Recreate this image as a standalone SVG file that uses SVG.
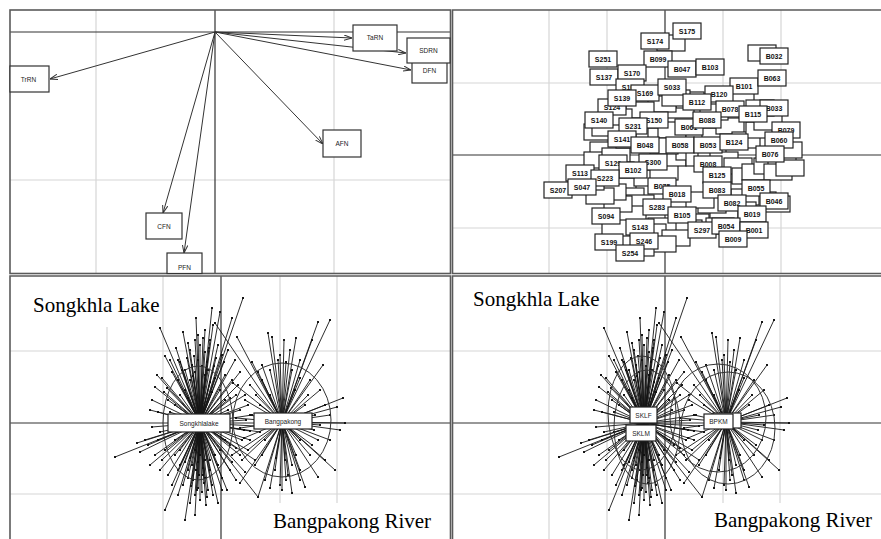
<svg xmlns="http://www.w3.org/2000/svg" width="881" height="539" viewBox="0 0 881 539">
<style>
.frame{fill:none;stroke:#5a5a5a;stroke-width:1.6}
.grid{stroke:#d6d6d6;stroke-width:1.2;fill:none}
.axis{stroke:#333;stroke-width:1.2;fill:none}
.arr{stroke:#333;stroke-width:1;fill:none;marker-end:url(#ah)}
.tl rect{fill:#fff;stroke:#333;stroke-width:1.2}
.tl text{font-family:"Liberation Sans",Arial,sans-serif;font-size:6.5px;text-anchor:middle;fill:#222}
.nb rect{fill:#fff;stroke:#222;stroke-width:1.2}
.nb text{font-family:"Liberation Sans",Arial,sans-serif;font-weight:bold;font-size:7px;text-anchor:middle;fill:#111}
.rays{stroke:#151515;stroke-width:0.9;fill:none;marker-start:url(#dot);marker-mid:url(#dot);marker-end:url(#dot)}
.ell{fill:none;stroke:#333;stroke-width:1}
.gl rect{fill:#fff;stroke:#222;stroke-width:1.2}
.gl text{font-family:"Liberation Sans",Arial,sans-serif;font-size:6.5px;text-anchor:middle;fill:#222}
.big{font-family:"Liberation Serif","Times New Roman",serif;font-size:21px;fill:#000}
</style>
<defs>
<marker id="ah" viewBox="0 0 8 6" refX="8" refY="3" markerWidth="8" markerHeight="6" markerUnits="userSpaceOnUse" orient="auto"><path d="M0,0.3L8,3L0,5.7" fill="none" stroke="#333" stroke-width="1"/></marker>
<marker id="dot" viewBox="0 0 3 3" refX="1.5" refY="1.5" markerWidth="2.4" markerHeight="2.4" markerUnits="userSpaceOnUse"><circle cx="1.5" cy="1.5" r="1.5" fill="#111"/></marker>
<path id="raysS" d="M200 423L243 298M200 423L212 308M200 423L160 328M200 423L205 330M200 423L188 343M200 423L213 325M200 423L220 312M200 423L232 318M200 423L196 318M200 423L183 332M200 423L176 348M200 423L170 360M200 423L165 356M200 423L157 375M200 423L155 387M200 423L152 400M200 423L150 410M200 423L164 392M200 423L172 372M200 423L180 362M200 423L190 350M200 423L195 340M200 423L200 345M200 423L205 352M200 423L210 340M200 423L218 345M200 423L222 355M200 423L228 350M200 423L235 360M200 423L240 372M200 423L238 385M200 423L245 395M200 423L248 405M200 423L185 370M200 423L192 365M200 423L207 362M200 423L214 366M200 423L178 380M200 423L225 375M200 423L168 400M200 423L158 412M200 423L230 398M200 423L240 410M200 423L252 415M200 423L198 335M200 423L203 338M200 423L209 348M200 423L187 358M200 423L194 356M200 423L216 358M200 423L115 457M200 423L137 443M200 423L152 427M200 423L145 440M200 423L140 452M200 423L150 465M200 423L160 470M200 423L165 510M200 423L190 503M200 423L197 490M200 423L218 503M200 423L227 490M200 423L207 497M200 423L258 497M200 423L248 450M200 423L255 460M200 423L245 472M200 423L236 480M200 423L230 470M200 423L222 478M200 423L212 485M200 423L205 478M200 423L200 500M200 423L195 515M200 423L185 520M200 423L178 495M200 423L172 485M200 423L168 475M200 423L180 465M200 423L188 470M200 423L193 480M200 423L203 468M200 423L210 460M200 423L218 465M200 423L240 455M200 423L250 440M200 423L260 432M200 423L175 455M200 423L165 450M200 423L158 440M200 423L198 488M200 423L202 492M200 423L195 495M200 423L206 505M200 423L191 486M200 423L199 475M200 423L196 470M200 423L204 483M200 423L255 426M200 423L250 431M200 423L246 420M200 423L190 380M200 423L195 372M200 423L205 375M200 423L210 382M200 423L215 378M200 423L185 390M200 423L180 395M200 423L220 390M200 423L225 400M200 423L175 405M200 423L170 412M200 423L228 410M200 423L198 360M200 423L202 366M200 423L193 376M200 423L208 370M200 423L212 392M200 423L188 398M200 423L182 370M200 423L178 360M200 423L224 362M200 423L232 380M200 423L236 395M200 423L167 388M200 423L162 378M200 423L195 450M200 423L200 455M200 423L205 460M200 423L190 458M200 423L185 462M200 423L210 470M200 423L215 455M200 423L220 450M200 423L180 450M200 423L175 440M200 423L170 432M200 423L225 440M200 423L230 445M200 423L192 465M200 423L198 462M200 423L203 475M200 423L188 478M200 423L208 490M200 423L213 495M200 423L183 485M200 423L178 470M200 423L222 490M200 423L232 462M200 423L236 448M200 423L162 460M200 423L155 455M200 423L148 445M200 423L242 440M200 423L244 430M200 423L160 432"/>
<path id="raysB" d="M282 422L318 322M282 422L330 320M282 422L268 333M282 422L272 337M282 422L312 340M282 422L323 365M282 422L343 398M282 422L337 407M282 422L345 423M282 422L325 460M282 422L335 470M282 422L318 477M282 422L292 493M282 422L282 490M282 422L305 487M282 422L258 497M282 422L240 483M282 422L242 460M282 422L232 455M282 422L233 383M282 422L237 337M282 422L252 362M282 422L215 323M282 422L290 350M282 422L300 360M282 422L280 355M282 422L262 365M282 422L250 385M282 422L245 400M282 422L310 380M282 422L320 390M282 422L330 440M282 422L340 430M282 422L300 470M282 422L288 475M282 422L275 470M282 422L265 480M282 422L255 465M282 422L248 450M282 422L310 455M282 422L270 395M282 422L295 390M282 422L305 405M282 422L260 405M282 422L315 415M282 422L320 425M282 422L300 440M282 422L265 440M282 422L284 340M282 422L286 480M282 422L236 418M282 422L240 428M282 422L278 360M282 422L286 362M282 422L292 370M282 422L270 370M282 422L262 380M282 422L300 378M282 422L308 395M282 422L256 395M282 422L250 415M282 422L314 430M282 422L312 445M282 422L296 455M282 422L285 460M282 422L276 458M282 422L262 455M282 422L292 465M282 422L280 485M282 422L270 488M282 422L300 480M282 422L318 440M282 422L244 438M282 422L258 372M282 422L325 405M282 422L330 415M282 422L296 338"/>
</defs>
<rect x="0" y="0" width="881" height="539" fill="#fff"/>

<g id="panel-top-left">
<path class="grid" d="M96 10V273.5M334 10V273.5M10 180H450.5"/>
<path class="axis" d="M10 32H450.5M215 10V273.5"/>
<rect class="frame" x="10" y="10" width="440.5" height="263.5"/>
</g>
<g id="panel-top-right">
<path class="grid" d="M549 10V273.5M607 10V273.5M723 10V273.5M781 10V273.5M452.5 83H881M452.5 228H881"/>
<path class="axis" d="M452.5 155H881M665 10V273.5"/>
<path class="frame" d="M881 10H452.5V273.5H881"/>
</g>
<g id="panel-bottom-left">
<path class="grid" d="M107 327V539M163 276V539M280 276V503M337 276V503M10 351H450.5M10 494H450.5"/>
<path class="axis" d="M10 423H450.5M221 276V539"/>
<path class="frame" d="M10 539V276H450.5V539"/>
</g>
<g id="panel-bottom-right">
<path class="grid" d="M549 327V539M607 276V539M723 276V503M780 276V503M452.5 351H881M452.5 494H881"/>
<path class="axis" d="M452.5 423H881M665 276V539"/>
<path class="frame" d="M881 276H452.5V539"/>
</g>

<g id="connectors">
<path class="arr" d="M215 32L352 38"/>
<path class="arr" d="M215 32L406 53"/>
<path class="arr" d="M215 32L411 70"/>
<path class="arr" d="M215 32L50 79"/>
<path class="arr" d="M215 32L323 144"/>
<path class="arr" d="M215 32L163 213"/>
<path class="arr" d="M215 32L184 253"/>
<use id="rays-songkhla-left" class="rays" href="#raysS"/>
<use id="rays-bangpakong-left" class="rays" href="#raysB"/>
<use id="rays-songkhla-right" class="rays" href="#raysS" transform="translate(444 0)"/>
<use id="rays-bangpakong-right" class="rays" href="#raysB" transform="translate(444 0)"/>
</g>

<g id="ellipses">
<ellipse class="ell" cx="198" cy="423" rx="35" ry="57"/>
<ellipse class="ell" cx="282" cy="420" rx="49" ry="57"/>
<ellipse class="ell" cx="642" cy="413" rx="34" ry="57"/>
<ellipse class="ell" cx="647" cy="427" rx="33" ry="57"/>
<ellipse class="ell" cx="718" cy="418" rx="48" ry="54"/>
<ellipse class="ell" cx="728" cy="428" rx="47" ry="56"/>
</g>

<g id="tl-nodes" class="tl">
<g id="TaRN"><rect x="353" y="25" width="44" height="26"/><text x="375" y="40">TaRN</text></g>
<g id="DFN"><rect x="412" y="58" width="35" height="25"/><text x="429.5" y="73">DFN</text></g>
<g id="SDRN"><rect x="407" y="38" width="43" height="25"/><text x="428.5" y="53">SDRN</text></g>
<g id="TrRN"><rect x="10" y="66" width="39" height="26"/><text x="28.5" y="81.5">TrRN</text></g>
<g id="AFN"><rect x="323" y="130" width="38" height="27"/><text x="342" y="145.5">AFN</text></g>
<g id="CFN"><rect x="146" y="213" width="36" height="26"/><text x="164" y="228.5">CFN</text></g>
<g id="PFN"><rect x="167" y="253" width="35" height="20.5"/><text x="184.5" y="270">PFN</text></g>
</g>

<g id="tr-nodes" class="nb">
<g id="f1" transform="translate(598 132)"><rect x="-14" y="-8" width="28" height="16"/></g>
<g id="f2" transform="translate(606 128)"><rect x="-14" y="-8" width="28" height="16"/></g>
<g id="f3" transform="translate(604 150)"><rect x="-14" y="-8" width="28" height="16"/></g>
<g id="f4" transform="translate(598 160)"><rect x="-14" y="-8" width="28" height="16"/></g>
<g id="f5" transform="translate(616 156)"><rect x="-14" y="-8" width="28" height="16"/></g>
<g id="f6" transform="translate(622 183)"><rect x="-14" y="-8" width="28" height="16"/></g>
<g id="f7" transform="translate(630 196)"><rect x="-14" y="-8" width="28" height="16"/></g>
<g id="f8" transform="translate(640 203)"><rect x="-14" y="-8" width="28" height="16"/></g>
<g id="f9" transform="translate(648 178)"><rect x="-14" y="-8" width="28" height="16"/></g>
<g id="f10" transform="translate(664 172)"><rect x="-14" y="-8" width="28" height="16"/></g>
<g id="f11" transform="translate(672 158)"><rect x="-14" y="-8" width="28" height="16"/></g>
<g id="f12" transform="translate(690 152)"><rect x="-14" y="-8" width="28" height="16"/></g>
<g id="f13" transform="translate(700 158)"><rect x="-14" y="-8" width="28" height="16"/></g>
<g id="f14" transform="translate(712 152)"><rect x="-14" y="-8" width="28" height="16"/></g>
<g id="f15" transform="translate(724 160)"><rect x="-14" y="-8" width="28" height="16"/></g>
<g id="f16" transform="translate(738 166)"><rect x="-14" y="-8" width="28" height="16"/></g>
<g id="f17" transform="translate(746 176)"><rect x="-14" y="-8" width="28" height="16"/></g>
<g id="f18" transform="translate(756 172)"><rect x="-14" y="-8" width="28" height="16"/></g>
<g id="f19" transform="translate(768 166)"><rect x="-14" y="-8" width="28" height="16"/></g>
<g id="f20" transform="translate(782 160)"><rect x="-14" y="-8" width="28" height="16"/></g>
<g id="f21" transform="translate(778 172)"><rect x="-14" y="-8" width="28" height="16"/></g>
<g id="f22" transform="translate(762 200)"><rect x="-14" y="-8" width="28" height="16"/></g>
<g id="f23" transform="translate(745 197)"><rect x="-14" y="-8" width="28" height="16"/></g>
<g id="f24" transform="translate(742 210)"><rect x="-14" y="-8" width="28" height="16"/></g>
<g id="f25" transform="translate(724 212)"><rect x="-14" y="-8" width="28" height="16"/></g>
<g id="f26" transform="translate(712 205)"><rect x="-14" y="-8" width="28" height="16"/></g>
<g id="f27" transform="translate(700 200)"><rect x="-14" y="-8" width="28" height="16"/></g>
<g id="f28" transform="translate(695 222)"><rect x="-14" y="-8" width="28" height="16"/></g>
<g id="f29" transform="translate(688 228)"><rect x="-14" y="-8" width="28" height="16"/></g>
<g id="f30" transform="translate(662 226)"><rect x="-14" y="-8" width="28" height="16"/></g>
<g id="f31" transform="translate(652 232)"><rect x="-14" y="-8" width="28" height="16"/></g>
<g id="f32" transform="translate(632 214)"><rect x="-14" y="-8" width="28" height="16"/></g>
<g id="f33" transform="translate(618 204)"><rect x="-14" y="-8" width="28" height="16"/></g>
<g id="f34" transform="translate(612 192)"><rect x="-14" y="-8" width="28" height="16"/></g>
<g id="f35" transform="translate(630 140)"><rect x="-14" y="-8" width="28" height="16"/></g>
<g id="f36" transform="translate(650 132)"><rect x="-14" y="-8" width="28" height="16"/></g>
<g id="f37" transform="translate(662 136)"><rect x="-14" y="-8" width="28" height="16"/></g>
<g id="f38" transform="translate(672 130)"><rect x="-14" y="-8" width="28" height="16"/></g>
<g id="f39" transform="translate(680 110)"><rect x="-14" y="-8" width="28" height="16"/></g>
<g id="f40" transform="translate(690 100)"><rect x="-14" y="-8" width="28" height="16"/></g>
<g id="f41" transform="translate(662 104)"><rect x="-14" y="-8" width="28" height="16"/></g>
<g id="f42" transform="translate(640 110)"><rect x="-14" y="-8" width="28" height="16"/></g>
<g id="f43" transform="translate(618 117)"><rect x="-14" y="-8" width="28" height="16"/></g>
<g id="f44" transform="translate(700 136)"><rect x="-14" y="-8" width="28" height="16"/></g>
<g id="f45" transform="translate(716 136)"><rect x="-14" y="-8" width="28" height="16"/></g>
<g id="f46" transform="translate(730 126)"><rect x="-14" y="-8" width="28" height="16"/></g>
<g id="f47" transform="translate(746 140)"><rect x="-14" y="-8" width="28" height="16"/></g>
<g id="f48" transform="translate(760 130)"><rect x="-14" y="-8" width="28" height="16"/></g>
<g id="f49" transform="translate(768 122)"><rect x="-14" y="-8" width="28" height="16"/></g>
<g id="f50" transform="translate(788 150)"><rect x="-14" y="-8" width="28" height="16"/></g>
<g id="f51" transform="translate(790 168)"><rect x="-14" y="-8" width="28" height="16"/></g>
<g id="f52" transform="translate(776 204)"><rect x="-14" y="-8" width="28" height="16"/></g>
<g id="f53" transform="translate(720 226)"><rect x="-14" y="-8" width="28" height="16"/></g>
<g id="f54" transform="translate(676 238)"><rect x="-14" y="-8" width="28" height="16"/></g>
<g id="f55" transform="translate(662 244)"><rect x="-14" y="-8" width="28" height="16"/></g>
<g id="f56" transform="translate(640 248)"><rect x="-14" y="-8" width="28" height="16"/></g>
<g id="f57" transform="translate(626 238)"><rect x="-14" y="-8" width="28" height="16"/></g>
<g id="f58" transform="translate(616 228)"><rect x="-14" y="-8" width="28" height="16"/></g>
<g id="f59" transform="translate(664 146)"><rect x="-14" y="-8" width="28" height="16"/></g>
<g id="f60" transform="translate(620 170)"><rect x="-14" y="-8" width="28" height="16"/></g>
<g id="f61" transform="translate(600 196)"><rect x="-14" y="-8" width="28" height="16"/></g>
<g id="f62" transform="translate(590 182)"><rect x="-14" y="-8" width="28" height="16"/></g>
<g id="f63" transform="translate(714 112)"><rect x="-14" y="-8" width="28" height="16"/></g>
<g id="f64" transform="translate(676 98)"><rect x="-14" y="-8" width="28" height="16"/></g>
<g id="f65" transform="translate(740 100)"><rect x="-14" y="-8" width="28" height="16"/></g>
<g id="f66" transform="translate(760 108)"><rect x="-14" y="-8" width="28" height="16"/></g>
<g id="f67" transform="translate(671 43)"><rect x="-14" y="-8" width="28" height="16"/></g>
<g id="f68" transform="translate(762 53)"><rect x="-14" y="-8" width="28" height="16"/></g>

<g id="S175" transform="translate(687 31)"><rect x="-14" y="-8" width="28" height="16"/><text y="2.5">S175</text></g>
<g id="S174" transform="translate(655 41)"><rect x="-14" y="-8" width="28" height="16"/><text y="2.5">S174</text></g>
<g id="S251" transform="translate(603 59)"><rect x="-14" y="-8" width="28" height="16"/><text y="2.5">S251</text></g>
<g id="B099" transform="translate(658 59)"><rect x="-14" y="-8" width="28" height="16"/><text y="2.5">B099</text></g>
<g id="B047" transform="translate(682 69)"><rect x="-14" y="-8" width="28" height="16"/><text y="2.5">B047</text></g>
<g id="B103" transform="translate(710 67)"><rect x="-14" y="-8" width="28" height="16"/><text y="2.5">B103</text></g>
<g id="B032" transform="translate(774 56)"><rect x="-14" y="-8" width="28" height="16"/><text y="2.5">B032</text></g>
<g id="S137" transform="translate(604 77)"><rect x="-14" y="-8" width="28" height="16"/><text y="2.5">S137</text></g>
<g id="S170" transform="translate(632 73)"><rect x="-14" y="-8" width="28" height="16"/><text y="2.5">S170</text></g>
<g id="S104" transform="translate(630 87)"><rect x="-14" y="-8" width="28" height="16"/><text y="2.5">S104</text></g>
<g id="S169" transform="translate(645 93)"><rect x="-14" y="-8" width="28" height="16"/><text y="2.5">S169</text></g>
<g id="S033" transform="translate(672 87)"><rect x="-14" y="-8" width="28" height="16"/><text y="2.5">S033</text></g>
<g id="B101" transform="translate(744 86)"><rect x="-14" y="-8" width="28" height="16"/><text y="2.5">B101</text></g>
<g id="B063" transform="translate(772 78)"><rect x="-14" y="-8" width="28" height="16"/><text y="2.5">B063</text></g>
<g id="B120" transform="translate(719 94)"><rect x="-14" y="-8" width="28" height="16"/><text y="2.5">B120</text></g>
<g id="S124" transform="translate(612 107)"><rect x="-14" y="-8" width="28" height="16"/><text y="2.5">S124</text></g>
<g id="S139" transform="translate(622 98)"><rect x="-14" y="-8" width="28" height="16"/><text y="2.5">S139</text></g>
<g id="B112" transform="translate(697 102)"><rect x="-14" y="-8" width="28" height="16"/><text y="2.5">B112</text></g>
<g id="B033" transform="translate(774 108)"><rect x="-14" y="-8" width="28" height="16"/><text y="2.5">B033</text></g>
<g id="B078" transform="translate(730 109)"><rect x="-14" y="-8" width="28" height="16"/><text y="2.5">B078</text></g>
<g id="B115" transform="translate(753 114)"><rect x="-14" y="-8" width="28" height="16"/><text y="2.5">B115</text></g>
<g id="S140" transform="translate(599 120)"><rect x="-14" y="-8" width="28" height="16"/><text y="2.5">S140</text></g>
<g id="S150" transform="translate(654 120)"><rect x="-14" y="-8" width="28" height="16"/><text y="2.5">S150</text></g>
<g id="B079" transform="translate(786 130)"><rect x="-14" y="-8" width="28" height="16"/><text y="2.5">B079</text></g>
<g id="B061" transform="translate(689 127)"><rect x="-14" y="-8" width="28" height="16"/><text y="2.5">B061</text></g>
<g id="B088" transform="translate(707 120)"><rect x="-14" y="-8" width="28" height="16"/><text y="2.5">B088</text></g>
<g id="S231" transform="translate(633 126)"><rect x="-14" y="-8" width="28" height="16"/><text y="2.5">S231</text></g>
<g id="S141" transform="translate(622 139)"><rect x="-14" y="-8" width="28" height="16"/><text y="2.5">S141</text></g>
<g id="B048" transform="translate(645 145)"><rect x="-14" y="-8" width="28" height="16"/><text y="2.5">B048</text></g>
<g id="B058" transform="translate(680 145)"><rect x="-14" y="-8" width="28" height="16"/><text y="2.5">B058</text></g>
<g id="B053" transform="translate(708 145)"><rect x="-14" y="-8" width="28" height="16"/><text y="2.5">B053</text></g>
<g id="B060" transform="translate(779 140)"><rect x="-14" y="-8" width="28" height="16"/><text y="2.5">B060</text></g>
<g id="B124" transform="translate(734 142)"><rect x="-14" y="-8" width="28" height="16"/><text y="2.5">B124</text></g>
<g id="B076" transform="translate(770 154)"><rect x="-14" y="-8" width="28" height="16"/><text y="2.5">B076</text></g>
<g id="S129" transform="translate(613 163)"><rect x="-14" y="-8" width="28" height="16"/><text y="2.5">S129</text></g>
<g id="S300" transform="translate(653 162)"><rect x="-14" y="-8" width="28" height="16"/><text y="2.5">S300</text></g>
<g id="B008" transform="translate(708 164)"><rect x="-14" y="-8" width="28" height="16"/><text y="2.5">B008</text></g>
<g id="B102" transform="translate(633 170)"><rect x="-14" y="-8" width="28" height="16"/><text y="2.5">B102</text></g>
<g id="S113" transform="translate(580 173)"><rect x="-14" y="-8" width="28" height="16"/><text y="2.5">S113</text></g>
<g id="S223" transform="translate(605 178)"><rect x="-14" y="-8" width="28" height="16"/><text y="2.5">S223</text></g>
<g id="B125" transform="translate(717 175)"><rect x="-14" y="-8" width="28" height="16"/><text y="2.5">B125</text></g>
<g id="S207" transform="translate(558 190)"><rect x="-14" y="-8" width="28" height="16"/><text y="2.5">S207</text></g>
<g id="S047" transform="translate(582 187)"><rect x="-14" y="-8" width="28" height="16"/><text y="2.5">S047</text></g>
<g id="B075" transform="translate(662 186)"><rect x="-14" y="-8" width="28" height="16"/><text y="2.5">B075</text></g>
<g id="B018" transform="translate(677 194)"><rect x="-14" y="-8" width="28" height="16"/><text y="2.5">B018</text></g>
<g id="B083" transform="translate(717 190)"><rect x="-14" y="-8" width="28" height="16"/><text y="2.5">B083</text></g>
<g id="B055" transform="translate(756 188)"><rect x="-14" y="-8" width="28" height="16"/><text y="2.5">B055</text></g>
<g id="B046" transform="translate(774 201)"><rect x="-14" y="-8" width="28" height="16"/><text y="2.5">B046</text></g>
<g id="B082" transform="translate(732 203)"><rect x="-14" y="-8" width="28" height="16"/><text y="2.5">B082</text></g>
<g id="S283" transform="translate(657 207)"><rect x="-14" y="-8" width="28" height="16"/><text y="2.5">S283</text></g>
<g id="S094" transform="translate(606 216)"><rect x="-14" y="-8" width="28" height="16"/><text y="2.5">S094</text></g>
<g id="B019" transform="translate(752 214)"><rect x="-14" y="-8" width="28" height="16"/><text y="2.5">B019</text></g>
<g id="B105" transform="translate(682 215)"><rect x="-14" y="-8" width="28" height="16"/><text y="2.5">B105</text></g>
<g id="S297" transform="translate(702 230)"><rect x="-14" y="-8" width="28" height="16"/><text y="2.5">S297</text></g>
<g id="B054" transform="translate(726 226)"><rect x="-14" y="-8" width="28" height="16"/><text y="2.5">B054</text></g>
<g id="B001" transform="translate(754 230)"><rect x="-14" y="-8" width="28" height="16"/><text y="2.5">B001</text></g>
<g id="S143" transform="translate(640 227)"><rect x="-14" y="-8" width="28" height="16"/><text y="2.5">S143</text></g>
<g id="S246" transform="translate(644 241)"><rect x="-14" y="-8" width="28" height="16"/><text y="2.5">S246</text></g>
<g id="S199" transform="translate(609 242)"><rect x="-14" y="-8" width="28" height="16"/><text y="2.5">S199</text></g>
<g id="B009" transform="translate(733 239)"><rect x="-14" y="-8" width="28" height="16"/><text y="2.5">B009</text></g>
<g id="S254" transform="translate(630 253)"><rect x="-14" y="-8" width="28" height="16"/><text y="2.5">S254</text></g>
</g>

<g id="group-nodes" class="gl">
<g id="Songkhlalake"><rect x="168" y="414" width="62" height="18"/><text x="199" y="425.5">Songkhlalake</text></g>
<g id="Bangpakong"><rect x="254" y="413" width="58" height="16"/><text x="283" y="423.5">Bangpakong</text></g>
<g id="SKLF"><rect x="630" y="407" width="27" height="16"/><text x="643.5" y="417.5">SKLF</text></g>
<g id="SKLM"><rect x="626" y="425" width="30" height="16"/><text x="641" y="435.5">SKLM</text></g>
<g id="BPKF"><rect x="713" y="413" width="28" height="15"/></g>
<g id="BPKM"><rect x="704" y="414" width="29" height="15"/><text x="718.5" y="424">BPKM</text></g>
</g>

<g id="titles">
<text class="big" x="33" y="312">Songkhla Lake</text>
<text class="big" x="273" y="528">Bangpakong River</text>
<text class="big" x="473" y="306">Songkhla Lake</text>
<text class="big" x="714" y="527">Bangpakong River</text>
</g>
</svg>
